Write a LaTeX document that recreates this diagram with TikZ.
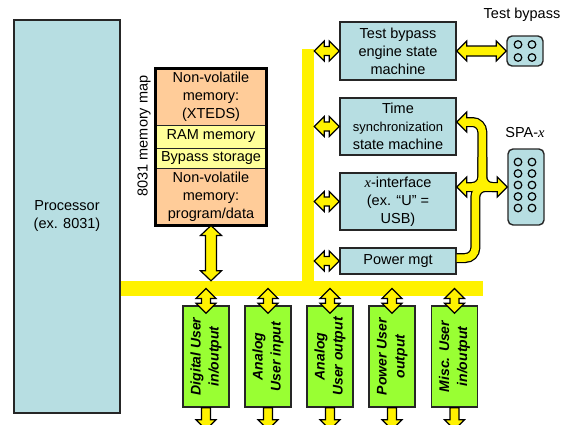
\documentclass[tikz,border=0pt]{standalone}
\usepackage{fontspec}
\setmainfont{Liberation Sans}
\newfontfamily\varfont{Liberation Serif}
\usepackage{graphicx}
\usetikzlibrary{calc}
\definecolor{boxblue}{RGB}{183,222,226}
\definecolor{memorange}{RGB}{255,204,153}
\definecolor{memyellow}{RGB}{255,255,153}
\definecolor{usergreen}{RGB}{153,255,51}
\def\aw{4.5}\def\ah{10}\def\al{10}
\def\hdarr(#1)(#2){\draw[yarrow] (#1) -- ($(#1)+(\al,-\ah)$) -- ($(#1)+(\al,-\aw)$) -- ($(#2)+(-\al,-\aw)$) -- ($(#2)+(-\al,-\ah)$) -- (#2) -- ($(#2)+(-\al,\ah)$) -- ($(#2)+(-\al,\aw)$) -- ($(#1)+(\al,\aw)$) -- ($(#1)+(\al,\ah)$) -- cycle;}
\def\vdarr(#1)(#2){\draw[yarrow] (#1) -- ($(#1)+(\ah,\al)$) -- ($(#1)+(\aw,\al)$) -- ($(#2)+(\aw,-\al)$) -- ($(#2)+(\ah,-\al)$) -- (#2) -- ($(#2)+(-\ah,-\al)$) -- ($(#2)+(-\aw,-\al)$) -- ($(#1)+(-\aw,\al)$) -- ($(#1)+(-\ah,\al)$) -- cycle;}
\def\sdarr(#1)(#2){\draw[yarrow] ($(#1)+(-\aw,0)$) -- ($(#2)+(-\aw,-\al)$) -- ($(#2)+(-\ah,-\al)$) -- (#2) -- ($(#2)+(\ah,-\al)$) -- ($(#2)+(\aw,-\al)$) -- ($(#1)+(\aw,0)$) -- cycle;}
\def\ahead(#1)(#2){\draw[yarrow] (#1) -- ($(#1)+(#2*\al,-\ah)$) -- ($(#1)+(#2*\al,\ah)$) -- cycle;}
\def\spabands#1{%
  \draw[#1, rounded corners=10pt] ($(tsa)+(8,0)$) -- (tsa -| trk) -- (trk) -- ($(spa.west)+(-8,0)$);
  \draw[#1, rounded corners=10pt] ($(trk)+(0,-30)$) -- (trk) -- ($(xia)+(8,0)$);
  \draw[#1, rounded corners=10pt] (pwa) -- (pwa -| trk2) -- (trk2) -- ($(spa.west)+(-8,0)$);}
\tikzset{
  busfill/.style={fill=yellow, inner sep=0pt},
  blubox/.style={draw=black!85, line width=1.4pt, fill=boxblue, align=center, inner sep=0pt},
  membox/.style={draw=black!85, line width=1pt, fill=memorange, align=center, inner sep=0pt, minimum width=110pt},
  userbox/.style={draw=black!85, line width=1.4pt, fill=usergreen, inner sep=0pt, minimum width=46pt, minimum height=101pt, font=\fontsize{14}{18}\selectfont\bfseries\itshape},
  plug/.style={draw=black!85, line width=1.4pt, fill=boxblue, rounded corners=5pt, inner sep=0pt},
  pinhole/.style={draw=black, line width=1.2pt},
  yarrow/.style={draw=black, line width=1.2pt, fill=yellow},
  bandout/.style={draw=black, line width=10pt},
  bandin/.style={draw=yellow, line width=7.5pt},
}
\begin{document}
\begin{tikzpicture}[x=1pt, y=-1pt, font=\fontsize{14.5}{18}\selectfont]
  \useasboundingbox (0,0) rectangle (562,424);
  %%%%% BUSES %%%%%
  \node[busfill, minimum width=363pt, minimum height=15pt] (hbus) at (301.5,288.5) {};
  \node[busfill, minimum width=12pt, minimum height=247pt] (vbus) at (308,172.5) {};

  \node[blubox, line width=2pt, minimum width=106pt, minimum height=393pt] (proc) at (67,216.5) {Processor\\(ex. 8031)};

  %%%%% MEMORY MAP %%%%%
  \node[membox, minimum height=56pt] (nvx) at (211,97) {Non-volatile\\memory:\\(XTEDS)};
  \node[membox, fill=memyellow, minimum height=23pt] (ram) at (211,136.5) {RAM memory};
  \node[membox, fill=memyellow, minimum height=20pt] (byp) at (211,158) {Bypass storage};
  \node[membox, minimum height=57pt] (nvp) at (211,196.5) {Non-volatile\\memory:\\program/data};
  \draw[line width=2.5pt] (nvx.north west) rectangle (nvp.south east);
  \node[rotate=90] (maplbl) at (144,136) {8031 memory map};

  %%%%% STATE MACHINES %%%%%
  \node[blubox, minimum width=116pt, minimum height=58pt] (tbe) at (398,51) {Test bypass\\engine state\\machine};
  \node[blubox, minimum width=116pt, minimum height=57pt] (tsm) at (398,126.5) {Time\\{\fontsize{13}{16}\selectfont synchronization}\\state machine};
  \node[blubox, minimum width=116pt, minimum height=57pt] (xif) at (398,201.5) {{\varfont\itshape x}-interface\\(ex. “U” =\\USB)};
  \node[blubox, minimum width=116pt, minimum height=26pt] (pwr) at (398,261) {Power mgt};

  %%%%% CONNECTORS %%%%%
  \node[plug, minimum width=36pt, minimum height=30pt] (tbc) at (525,51) {};
  \node (tbclbl) at (522,15) {Test bypass};
  \foreach \dx in {-7,7} \foreach \dy in {-6.5,6.5} \draw[pinhole] ($(tbc)+(\dx,\dy)$) circle (3.8pt);
  \node[plug, minimum width=36pt, minimum height=76pt] (spa) at (526,187) {};
  \node (spalbl) at (525,133) {SPA-{\varfont\itshape x}};
  \foreach \dx in {-8,6} \foreach \dy in {-25,-13.5,-2,9.5,21} \draw[pinhole] ($(spa)+(\dx,\dy)$) circle (3.8pt);

  %%%%% USER I/O %%%%%
  \foreach \i/\xx/\txt in {1/206/{Digital User\\in/output}, 2/268/{Analog\\User input}, 3/330/{Analog\\User output}, 4/392/{Power User\\output}, 5/454.5/{Misc. User\\in/output}} {
    \node[userbox] (u\i) at (\xx,356.5) {\rotatebox{90}{\begin{tabular}{@{}c@{}}\txt\end{tabular}}};
  }

  %%%%% ARROWS %%%%%
  \foreach \b in {tbe,tsm,xif,pwr} {\hdarr(vbus.east |- \b.west)(\b.west)}
  {\def\aw{5}\hdarr(tbe.east)(tbc.west)}
  {\def\aw{5.5}\def\ah{10.5}\vdarr(nvp.south)(nvp.south |- hbus.north)}
  \foreach \i in {1,...,5} {
    \coordinate (top\i) at (u\i |- hbus.center);
    \coordinate (bot\i) at ($(u\i.north)+(0,8)$);
    \coordinate (out\i) at ($(u\i.south)+(0,22)$);
    \vdarr(top\i)(bot\i)
    \sdarr(u\i.south)(out\i)
  }

  % SPA branches
  \coordinate (tsa) at ($(tsm.east)+(0,-4.5)$);
  \coordinate (xia) at (xif.east |- spa.west);
  \coordinate (pwa) at ($(pwr.east)+(0,-3)$);
  \coordinate (trk) at ($(spa.west)+(-25,0)$);
  \coordinate (trk2) at ($(spa.west)+(-32,0)$);
  \spabands{bandout}
  \ahead(tsa)(1)
  \ahead(xia)(1)
  \ahead(spa.west)(-1)
  \spabands{bandin}
\end{tikzpicture}
\end{document}
